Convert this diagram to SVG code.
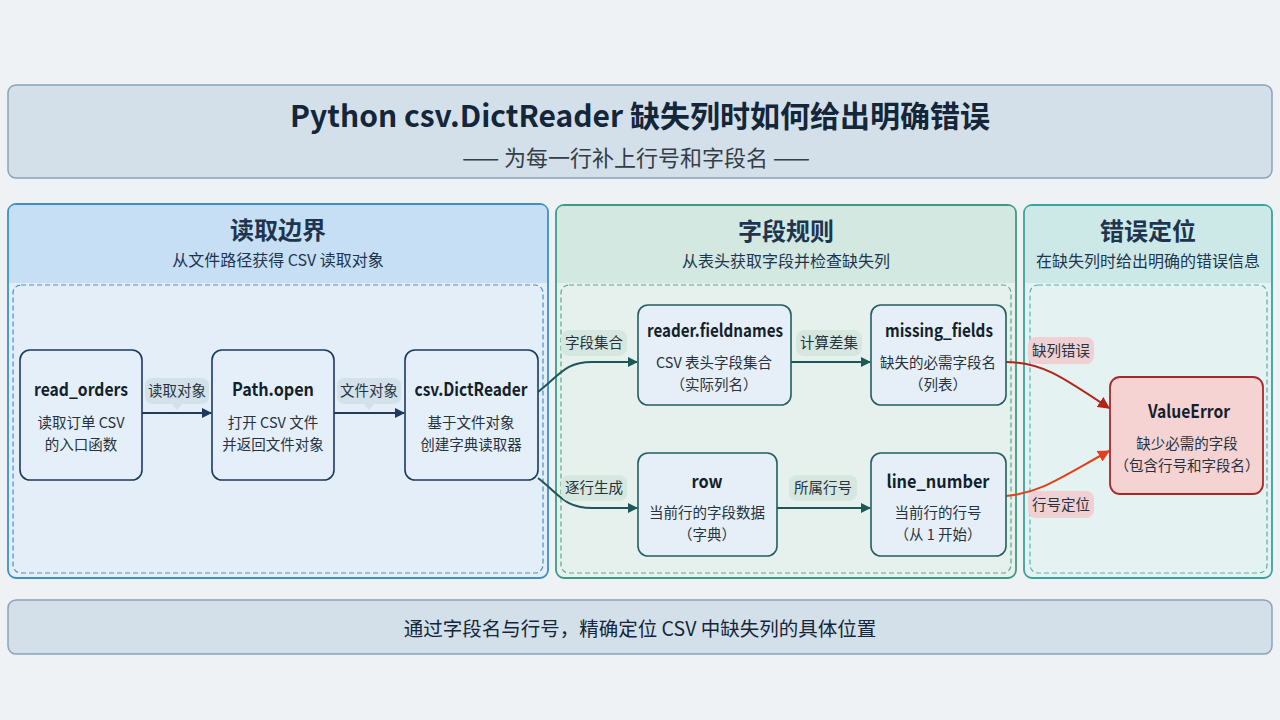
<svg xmlns="http://www.w3.org/2000/svg" width="1280" height="720" viewBox="0 0 1280 720">
<defs>
<marker id="ah-navy" viewBox="0 0 10 10" refX="9" refY="5" markerWidth="10" markerHeight="10" markerUnits="userSpaceOnUse" orient="auto"><path d="M0,0 L10,5 L0,10 Z" fill="#1e3a5f"/></marker>
<marker id="ah-teal" viewBox="0 0 10 10" refX="9" refY="5" markerWidth="10" markerHeight="10" markerUnits="userSpaceOnUse" orient="auto"><path d="M0,0 L10,5 L0,10 Z" fill="#1d5858"/></marker>
<marker id="ah-red1" viewBox="0 0 10 10" refX="9" refY="5" markerWidth="12" markerHeight="12" markerUnits="userSpaceOnUse" orient="auto"><path d="M0,0 L10,5 L0,10 Z" fill="#b52218"/></marker>
<marker id="ah-red2" viewBox="0 0 10 10" refX="9" refY="5" markerWidth="12" markerHeight="12" markerUnits="userSpaceOnUse" orient="auto"><path d="M0,0 L10,5 L0,10 Z" fill="#e0401c"/></marker>
</defs>
<style>
text{font-family:"Noto Sans CJK SC","Noto Sans",sans-serif;fill:#1b2a3a;text-anchor:middle}
.ttl{font-size:30px;font-weight:700;fill:#14263a}
.sub{font-size:22px;fill:#333d48}
.ph{font-size:24px;font-weight:700;fill:#1e3550}
.ps{font-size:16px;fill:#1e3550}
.nt{font-size:18px;font-weight:700;fill:#141f2c}
.nd{font-size:14.5px;fill:#26323e}
.el{font-size:14.5px;fill:#26323e}
.n1{fill:#e4eff9;stroke:#1e3a5f;stroke-width:1.6}
.n2{fill:#e6eff7;stroke:#245e5e;stroke-width:1.6}
.n3{fill:#f5d3d3;stroke:#a8282a;stroke-width:1.8}
.e1{fill:none;stroke:#1e3a5f;stroke-width:2}
.e2{fill:none;stroke:#1d5858;stroke-width:2}
.dash{fill:none;stroke-width:1.2;stroke-dasharray:5 3}
</style>
<rect x="0" y="0" width="1280" height="720" fill="#eef2f5"/>

<g id="title">
<rect x="8" y="85" width="1264" height="93" rx="8" fill="#d3e0ea" stroke="#8aa2b8" stroke-width="1.5"/>
<text class="ttl" x="640" y="127">Python csv.DictReader 缺失列时如何给出明确错误</text>
<text class="sub" x="636" y="166">—— 为每一行补上行号和字段名 ——</text>
</g>

<g id="panel-read">
<rect x="8" y="204" width="540" height="374" rx="8" fill="#e3eef8" stroke="#3d8fc6" stroke-width="1.8"/>
<path d="M9,283 V212 Q9,205 16,205 H540 Q547,205 547,212 V283 Z" fill="#c6dff4"/>
<rect class="dash" x="13" y="285" width="530" height="288" rx="8" stroke="#4a8fc0"/>
<text class="ph" x="278" y="239">读取边界</text>
<text class="ps" x="278" y="266">从文件路径获得 CSV 读取对象</text>
</g>

<g id="panel-fields">
<rect x="556" y="205" width="460" height="373" rx="8" fill="#e6f1ee" stroke="#3f9a80" stroke-width="1.8"/>
<path d="M557,283 V213 Q557,206 564,206 H1008 Q1015,206 1015,213 V283 Z" fill="#d2e8e0"/>
<rect class="dash" x="561" y="285" width="450" height="288" rx="8" stroke="#5aa890"/>
<text class="ph" x="786" y="240">字段规则</text>
<text class="ps" x="786" y="267">从表头获取字段并检查缺失列</text>
</g>

<g id="panel-error">
<rect x="1024" y="205" width="248" height="373" rx="8" fill="#e5f2f2" stroke="#3aa39a" stroke-width="1.8"/>
<path d="M1025,283 V213 Q1025,206 1032,206 H1264 Q1271,206 1271,213 V283 Z" fill="#cde9e7"/>
<rect class="dash" x="1030" y="285" width="237" height="288" rx="8" stroke="#5ab0a8"/>
<text class="ph" x="1148" y="240">错误定位</text>
<text class="ps" x="1148" y="267">在缺失列时给出明确的错误信息</text>
</g>

<g id="connectors">
<path class="e1" d="M142,413 H211" marker-end="url(#ah-navy)"/>
<path class="e1" d="M334,413 H404" marker-end="url(#ah-navy)"/>
<path class="e2" d="M538,392 C560,375 565,362 592,362 H637" marker-end="url(#ah-teal)"/>
<path class="e2" d="M538,478 C560,495 565,508 592,508 H637" marker-end="url(#ah-teal)"/>
<path class="e2" d="M791,362 H870" marker-end="url(#ah-teal)"/>
<path class="e2" d="M777,508 H870" marker-end="url(#ah-teal)"/>
<path d="M1006,362 C1040,362 1060,375 1109,408" fill="none" stroke="#b52218" stroke-width="2" marker-end="url(#ah-red1)"/>
<path d="M1006,496 C1040,493 1060,478 1109,451" fill="none" stroke="#e0401c" stroke-width="2" marker-end="url(#ah-red2)"/>
</g>

<g id="edge-labels">
<path d="M153,378 H201 Q209,378 209,386 V396 Q209,404 201,404 H182 L177,410 L172,404 H153 Q145,404 145,396 V386 Q145,378 153,378 Z" fill="#d3e1ea"/>
<text class="el" x="177" y="396">读取对象</text>
<path d="M345,378 H393 Q401,378 401,386 V396 Q401,404 393,404 H374 L369,410 L364,404 H345 Q337,404 337,396 V386 Q337,378 345,378 Z" fill="#d3e1ea"/>
<text class="el" x="369" y="396">文件对象</text>
<rect x="561" y="330" width="66" height="26" rx="8" fill="#d6e7e0"/>
<text class="el" x="594" y="348">字段集合</text>
<rect x="561" y="475" width="66" height="26" rx="8" fill="#d6e7e0"/>
<text class="el" x="594" y="493">逐行生成</text>
<rect x="796" y="330" width="66" height="26" rx="8" fill="#d6e7e0"/>
<text class="el" x="829" y="348">计算差集</text>
<rect x="789" y="475" width="68" height="26" rx="8" fill="#d6e7e0"/>
<text class="el" x="823" y="493">所属行号</text>
<rect x="1028" y="337" width="66" height="27" rx="8" fill="#f0d0d2"/>
<text class="el" x="1061" y="356">缺列错误</text>
<rect x="1028" y="491" width="66" height="27" rx="8" fill="#f0d0d2"/>
<text class="el" x="1061" y="510">行号定位</text>
</g>

<g id="node-read_orders">
<rect class="n1" x="20" y="350" width="122" height="130" rx="10"/>
<text class="nt" x="81" y="396" textLength="94" lengthAdjust="spacingAndGlyphs">read_orders</text>
<text class="nd" x="81" y="428">读取订单 CSV</text>
<text class="nd" x="81" y="450">的入口函数</text>
</g>
<g id="node-path_open">
<rect class="n1" x="212" y="350" width="122" height="130" rx="10"/>
<text class="nt" x="273" y="396" textLength="82" lengthAdjust="spacingAndGlyphs">Path.open</text>
<text class="nd" x="273" y="428">打开 CSV 文件</text>
<text class="nd" x="273" y="450">并返回文件对象</text>
</g>
<g id="node-dictreader">
<rect class="n1" x="405" y="350" width="133" height="130" rx="10"/>
<text class="nt" x="471" y="396" textLength="113" lengthAdjust="spacingAndGlyphs">csv.DictReader</text>
<text class="nd" x="471" y="428">基于文件对象</text>
<text class="nd" x="471" y="450">创建字典读取器</text>
</g>
<g id="node-fieldnames">
<rect class="n2" x="638" y="305" width="153" height="100" rx="10"/>
<text class="nt" x="715" y="337" textLength="136" lengthAdjust="spacingAndGlyphs">reader.fieldnames</text>
<text class="nd" x="714" y="368">CSV 表头字段集合</text>
<text class="nd" x="714" y="390">（实际列名）</text>
</g>
<g id="node-missing_fields">
<rect class="n2" x="871" y="305" width="135" height="100" rx="10"/>
<text class="nt" x="939" y="337" textLength="108" lengthAdjust="spacingAndGlyphs">missing_fields</text>
<text class="nd" x="938" y="368">缺失的必需字段名</text>
<text class="nd" x="938" y="390">（列表）</text>
</g>
<g id="node-row">
<rect class="n2" x="638" y="453" width="139" height="103" rx="10"/>
<text class="nt" x="707" y="488" textLength="31" lengthAdjust="spacingAndGlyphs">row</text>
<text class="nd" x="707" y="518">当前行的字段数据</text>
<text class="nd" x="707" y="540">（字典）</text>
</g>
<g id="node-line_number">
<rect class="n2" x="871" y="453" width="135" height="103" rx="10"/>
<text class="nt" x="938" y="488" textLength="103" lengthAdjust="spacingAndGlyphs">line_number</text>
<text class="nd" x="938" y="518">当前行的行号</text>
<text class="nd" x="938" y="540">（从 1 开始）</text>
</g>
<g id="node-valueerror">
<rect class="n3" x="1110" y="377" width="153" height="117" rx="10"/>
<text class="nt" x="1189" y="418" textLength="82" lengthAdjust="spacingAndGlyphs">ValueError</text>
<text class="nd" x="1187" y="449">缺少必需的字段</text>
<text class="nd" x="1187" y="471">（包含行号和字段名）</text>
</g>

<g id="footer">
<rect x="8" y="600" width="1264" height="54" rx="8" fill="#d3e0ea" stroke="#8aa2b8" stroke-width="1.5"/>
<text x="640" y="636" style="font-size:19.5px;fill:#14263a">通过字段名与行号，精确定位 CSV 中缺失列的具体位置</text>
</g>
</svg>
